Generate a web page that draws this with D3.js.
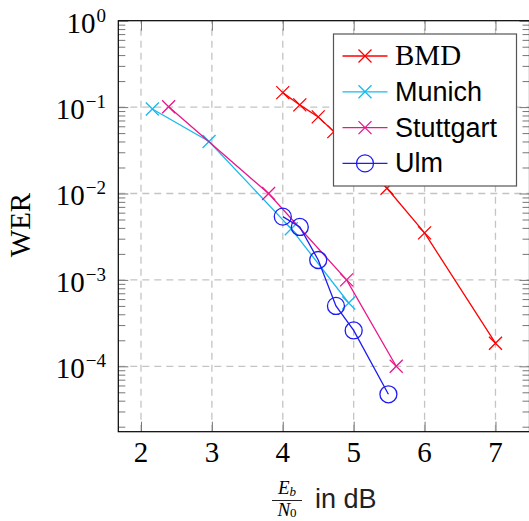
<!DOCTYPE html>
<html>
<head>
<meta charset="utf-8">
<script src="https://cdn.jsdelivr.net/npm/d3@7"></script>
<style>
  body { margin: 0; background: #fff; }
  svg { display: block; }
</style>
</head>
<body>
<svg id="chart" width="529" height="521"></svg>
<script>
// values
const bmdX = [ 4, 4.24, 4.5, 4.72, 5.47, 6, 7 ];
const bmdY = [ 0.147, 0.106, 0.077, 0.052, 0.0115, 0.0035, 0.000185 ];
const munichX = [ 2.16, 2.96, 4.12, 4.93 ];
const munichY = [ 0.095, 0.04, 0.0039, 0.00054 ];
const stuttgartX = [ 2.39, 3.8, 4.9, 5.6 ];
const stuttgartY = [ 0.101, 0.01, 0.001, 0.0001 ];
const ulmX = [ 4, 4.24, 4.5, 4.75, 5, 5.49 ];
const ulmY = [ 0.0054, 0.0041, 0.0017, 0.0005, 0.00026, 0.0000474 ];
const xTicks = [ 2, 3, 4, 5, 6, 7 ];
const yTicks = [ 1, 0.1, 0.01, 0.001, 0.0001 ];
const yTickExp = [ "0", "−1", "−2", "−3", "−4" ];

const zip = ( xs, ys ) => xs.map( ( x, i ) => ( { x, y: ys[i] } ) );

const series = [
  { name: "BMD", data: zip( bmdX, bmdY ), color: "#ff0000", mark: "cross", serif: true },
  { name: "Munich", data: zip( munichX, munichY ), color: "#18b9f0", mark: "cross" },
  { name: "Stuttgart", data: zip( stuttgartX, stuttgartY ), color: "#ea168c", mark: "cross" },
  { name: "Ulm", data: zip( ulmX, ulmY ), color: "#1c1cf5", mark: "circle" },
];

const svg = d3.select( "#chart" );
const PLOT = { left: 118.3, right: 529.5, top: 20.7, bottom: 431.7 };
const SERIF = "'Liberation Serif', 'Times New Roman', serif";
const SANS = "'Liberation Sans', Arial, sans-serif";

const xScale = d3.scaleLinear()
  .domain( [ 1.68, 7.48 ] )
  .range( [ PLOT.left, PLOT.right ] );
const yScale = d3.scaleLog()
  .domain( [ 1.75e-5, 1 ] )
  .range( [ PLOT.bottom, PLOT.top ] );

// minor log ticks 2..9 per decade
const minorY = [];
for ( let e = -5; e < 0; e++ ) {
  for ( let m = 2; m <= 9; m++ ) {
    const v = m * Math.pow( 10, e );
    if ( v > yScale.domain()[0] ) minorY.push( v );
  }
}

// grid
const grid = svg.append( "g" )
  .attr( "stroke", "#c4c4c4" )
  .attr( "stroke-width", 1.3 )
  .attr( "stroke-dasharray", "7,5" );
grid.selectAll( "line.gx" )
  .data( xTicks )
  .enter()
  .append( "line" )
  .attr( "x1", d => xScale( d ) )
  .attr( "x2", d => xScale( d ) )
  .attr( "y1", PLOT.bottom )
  .attr( "y2", PLOT.top );
grid.selectAll( "line.gy" )
  .data( yTicks.slice( 1 ) )
  .enter()
  .append( "line" )
  .attr( "y1", d => yScale( d ) )
  .attr( "y2", d => yScale( d ) )
  .attr( "x1", PLOT.left )
  .attr( "x2", PLOT.right );

// ticks, all pointing inwards
const tickStyle = g => {
  g.select( ".domain" ).remove();
  g.selectAll( ".tick line" ).attr( "stroke", "#777" ).attr( "stroke-width", 1 );
  g.selectAll( ".tick text" ).remove();
};
svg.append( "g" )
  .attr( "transform", `translate(0,${PLOT.bottom})` )
  .call( d3.axisBottom( xScale ).tickValues( xTicks ).tickSize( -10 ) )
  .call( tickStyle );
svg.append( "g" )
  .attr( "transform", `translate(0,${PLOT.top})` )
  .call( d3.axisTop( xScale ).tickValues( xTicks ).tickSize( -10 ) )
  .call( tickStyle );
svg.append( "g" )
  .attr( "transform", `translate(${PLOT.left},0)` )
  .call( d3.axisLeft( yScale ).tickValues( yTicks ).tickSize( -10 ) )
  .call( tickStyle );
svg.append( "g" )
  .attr( "transform", `translate(${PLOT.left},0)` )
  .call( d3.axisLeft( yScale ).tickValues( minorY ).tickSize( -7 ) )
  .call( tickStyle );
svg.append( "g" )
  .attr( "transform", `translate(${PLOT.right},0)` )
  .call( d3.axisRight( yScale ).tickValues( yTicks ).tickSize( -10 ) )
  .call( tickStyle );
svg.append( "g" )
  .attr( "transform", `translate(${PLOT.right},0)` )
  .call( d3.axisRight( yScale ).tickValues( minorY ).tickSize( -7 ) )
  .call( tickStyle );

// frame
svg.append( "rect" )
  .attr( "x", PLOT.left )
  .attr( "y", PLOT.top )
  .attr( "width", PLOT.right - PLOT.left )
  .attr( "height", PLOT.bottom - PLOT.top )
  .attr( "fill", "none" )
  .attr( "stroke", "#000" )
  .attr( "stroke-width", 1.2 );

// tick labels
svg.append( "g" )
  .selectAll( "text" )
  .data( xTicks )
  .enter()
  .append( "text" )
  .attr( "x", d => xScale( d ) )
  .attr( "y", 461.5 )
  .attr( "text-anchor", "middle" )
  .attr( "font-family", SERIF )
  .attr( "font-size", 29 )
  .text( d => d );

const yLabels = svg.append( "g" )
  .selectAll( "text" )
  .data( yTicks )
  .enter()
  .append( "text" )
  .attr( "x", 106 )
  .attr( "y", d => yScale( d ) + 12 )
  .attr( "text-anchor", "end" )
  .attr( "font-family", SERIF )
  .attr( "font-size", 29 );
yLabels.append( "tspan" ).text( "10" );
yLabels.append( "tspan" )
  .attr( "font-size", 19 )
  .attr( "dy", -11 )
  .attr( "dx", 1 )
  .text( ( d, i ) => yTickExp[i] );

// axis titles
svg.append( "text" )
  .attr( "transform", "translate(30,225) rotate(-90)" )
  .attr( "text-anchor", "middle" )
  .attr( "font-family", SERIF )
  .attr( "font-size", 29 )
  .text( "WER" );

const xTitle = svg.append( "g" );
const num = xTitle.append( "text" )
  .attr( "x", 287 )
  .attr( "y", 494 )
  .attr( "text-anchor", "middle" )
  .attr( "font-family", SERIF )
  .attr( "font-style", "italic" )
  .attr( "font-size", 19 );
num.append( "tspan" ).text( "E" );
num.append( "tspan" ).attr( "font-size", 13 ).attr( "dy", 2 ).text( "b" );
xTitle.append( "line" )
  .attr( "x1", 272 )
  .attr( "x2", 302 )
  .attr( "y1", 500.5 )
  .attr( "y2", 500.5 )
  .attr( "stroke", "#222" )
  .attr( "stroke-width", 1 );
const den = xTitle.append( "text" )
  .attr( "x", 287 )
  .attr( "y", 516 )
  .attr( "text-anchor", "middle" )
  .attr( "font-family", SERIF )
  .attr( "font-size", 19 );
den.append( "tspan" ).attr( "font-style", "italic" ).text( "N" );
den.append( "tspan" ).attr( "font-size", 13 ).attr( "dy", 1 ).text( "0" );
xTitle.append( "text" )
  .attr( "x", 315 )
  .attr( "y", 508 )
  .attr( "font-family", SANS )
  .attr( "font-size", 27 )
  .attr( "fill", "#222" )
  .text( "in dB" );

// markers
const drawMark = ( g, s, cx, cy ) => {
  if ( s.mark === "circle" ) {
    g.append( "circle" )
      .attr( "cx", cx )
      .attr( "cy", cy )
      .attr( "r", 8.5 )
      .attr( "fill", "none" )
      .attr( "stroke", s.color )
      .attr( "stroke-width", 1.3 );
  } else {
    const h = 6.5;
    g.append( "path" )
      .attr( "d", `M${cx - h},${cy - h}L${cx + h},${cy + h}M${cx - h},${cy + h}L${cx + h},${cy - h}` )
      .attr( "stroke", s.color )
      .attr( "stroke-width", 1.3 )
      .attr( "fill", "none" );
  }
};

const lineFunc = d3.line()
  .x( d => xScale( d.x ) )
  .y( d => yScale( d.y ) );

series.forEach( s => {
  const g = svg.append( "g" );
  g.append( "path" )
    .attr( "d", lineFunc( s.data ) )
    .attr( "stroke", s.color )
    .attr( "stroke-width", 1.3 )
    .attr( "fill", "none" );
  s.data.forEach( d => drawMark( g, s, xScale( d.x ), yScale( d.y ) ) );
} );

// legend
const legend = svg.append( "g" );
legend.append( "rect" )
  .attr( "x", 333.5 )
  .attr( "y", 34 )
  .attr( "width", 183 )
  .attr( "height", 152 )
  .attr( "fill", "#fff" )
  .attr( "stroke", "#555" )
  .attr( "stroke-width", 1.2 );
series.forEach( ( s, i ) => {
  const cy = 56 + i * 35.8;
  const g = legend.append( "g" );
  g.append( "line" )
    .attr( "x1", 342.5 )
    .attr( "x2", 387.5 )
    .attr( "y1", cy )
    .attr( "y2", cy )
    .attr( "stroke", s.color )
    .attr( "stroke-width", 1.3 );
  drawMark( g, s, 365, cy );
  g.append( "text" )
    .attr( "x", 395 )
    .attr( "y", cy + 9 )
    .attr( "font-family", s.serif ? SERIF : SANS )
    .attr( "font-size", s.serif ? 29 : 27 )
    .text( s.name );
} );
</script>
</body>
</html>
